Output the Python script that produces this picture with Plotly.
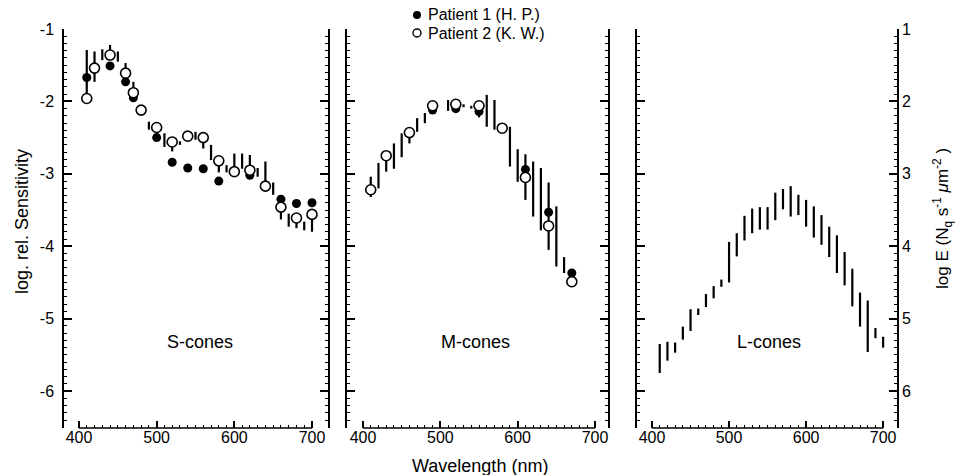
import plotly.graph_objects as go

# ---------------- data ----------------
# S-cones
s_p1_nm = [410, 440, 460, 470, 500, 520, 540, 560, 580, 620, 660, 680, 700]
s_p1 = [-1.67, -1.51, -1.73, -1.95, -2.50, -2.84, -2.92, -2.93, -3.10, -3.02, -3.35, -3.41, -3.40]
s_p2_nm = [410, 420, 440, 460, 470, 480, 500, 520, 540, 560, 580, 600, 620, 640, 660, 680, 700]
s_p2 = [-1.96, -1.54, -1.36, -1.61, -1.88, -2.12, -2.36, -2.56, -2.48, -2.50, -2.82, -2.97, -2.95,
        -3.17, -3.46, -3.61, -3.56]
s_bar_nm = [410, 420, 430, 440, 450, 460, 470, 490, 510, 520, 530, 550, 560, 570, 580, 590, 600,
            610, 620, 630, 640, 650, 660, 670, 680, 690, 700]
s_bar_top = [-1.29, -1.31, -1.28, -1.22, -1.31, -1.47, -1.73, -2.28, -2.44, -2.56, -2.55, -2.42,
             -2.50, -2.60, -2.82, -2.88, -2.72, -2.72, -2.74, -2.92, -2.83, -3.12, -3.46, -3.55,
             -3.61, -3.66, -3.56]
s_bar_bot = [-1.96, -1.73, -1.43, -1.36, -1.45, -1.60, -1.88, -2.39, -2.63, -2.69, -2.60, -2.53,
             -2.65, -2.81, -2.98, -2.98, -2.97, -2.93, -2.95, -3.04, -3.17, -3.29, -3.63, -3.73,
             -3.75, -3.78, -3.80]

# M-cones
m_p1_nm = [490, 520, 550, 610, 640, 670]
m_p1 = [-2.12, -2.10, -2.14, -2.94, -3.53, -4.37]
m_p2_nm = [410, 430, 460, 490, 520, 550, 580, 610, 640, 670]
m_p2 = [-3.22, -2.75, -2.43, -2.06, -2.04, -2.06, -2.37, -3.05, -3.72, -4.49]
m_bar_nm = [410, 420, 430, 440, 450, 460, 470, 480, 510, 530, 540, 550, 560, 570, 590, 600, 610,
            620, 630, 640, 650, 660]
m_bar_top = [-3.04, -2.85, -2.75, -2.58, -2.44, -2.43, -2.23, -2.16, -1.98, -2.04, -2.06, -2.06,
             -1.91, -1.98, -2.35, -2.66, -2.73, -2.83, -2.92, -3.12, -3.45, -4.15]
m_bar_bot = [-3.32, -3.20, -2.97, -2.93, -2.77, -2.58, -2.42, -2.30, -2.13, -2.08, -2.10, -2.22,
             -2.35, -2.39, -2.90, -3.11, -3.36, -3.59, -3.78, -4.05, -4.28, -4.37]

# L-cones (range bars only)
l_bar_nm = [410, 420, 430, 440, 450, 460, 470, 480, 490, 500, 510, 520, 530, 540, 550, 560, 570,
            580, 590, 600, 610, 620, 630, 640, 650, 660, 670, 680, 690, 700]
l_bar_top = [-5.35, -5.32, -5.33, -5.11, -4.87, -4.86, -4.66, -4.55, -4.46, -3.94, -3.82, -3.58,
             -3.48, -3.46, -3.46, -3.26, -3.21, -3.17, -3.29, -3.36, -3.45, -3.57, -3.73, -3.85,
             -4.08, -4.31, -4.64, -4.75, -5.13, -5.25]
l_bar_bot = [-5.75, -5.58, -5.47, -5.29, -5.17, -4.95, -4.84, -4.72, -4.56, -4.50, -4.14, -3.92,
             -3.82, -3.77, -3.77, -3.64, -3.49, -3.59, -3.57, -3.73, -3.88, -3.98, -4.15, -4.37,
             -4.54, -4.83, -5.11, -5.46, -5.27, -5.40]

y_ticks = [-1, -2, -3, -4, -5, -6]
y_ticktext = ["-1", "-2", "-3", "-4", "-5", "-6"]
e_ticks = [1, 2, 3, 4, 5, 6]
x_ticks = [400, 500, 600, 700]
panel_names = ["S-cones", "M-cones", "L-cones"]

# ---------------- figure ----------------
W, H = 959, 475
ML, MR, MT, MB = 64, 62, 29, 47
PW, PH = W - ML - MR, H - MT - MB


def px_x(p):
    return (p - ML) / PW


def px_y(p):
    return (H - MB - p) / PH


FONT = "Liberation Sans, Arial, Helvetica, sans-serif"
fig = go.Figure()


def add_bars(nm, top, bot, xa, ya):
    fig.add_trace(go.Scatter(
        x=nm, y=top, mode="markers", xaxis=xa, yaxis=ya, showlegend=False,
        marker=dict(size=1, opacity=0),
        error_y=dict(type="data", symmetric=False,
                     array=[0] * len(nm),
                     arrayminus=[t - b for t, b in zip(top, bot)],
                     width=0, thickness=2.2, color="black"),
        hoverinfo="skip"))


def add_points(nm, vals, xa, ya, filled, name):
    fig.add_trace(go.Scatter(
        x=nm, y=vals, mode="markers", xaxis=xa, yaxis=ya, name=name, showlegend=False,
        marker=dict(symbol="circle", size=9 if filled else 10,
                    color="black" if filled else "white",
                    line=dict(color="black", width=0 if filled else 1.6))))


add_bars(s_bar_nm, s_bar_top, s_bar_bot, "x", "y")
add_points(s_p1_nm, s_p1, "x", "y", True, "Patient 1 (H. P.)")
add_points(s_p2_nm, s_p2, "x", "y", False, "Patient 2 (K. W.)")

add_bars(m_bar_nm, m_bar_top, m_bar_bot, "x2", "y2")
add_points(m_p1_nm, m_p1, "x2", "y2", True, "Patient 1 (H. P.)")
add_points(m_p2_nm, m_p2, "x2", "y2", False, "Patient 2 (K. W.)")

add_bars(l_bar_nm, l_bar_top, l_bar_bot, "x3", "y3")

domains = [
    [px_x(64), px_x(328)],
    [px_x(347), px_x(608)],
    [px_x(637), px_x(897)],
]
xranges = [[380.7, 720.6], [379.3, 716.8], [380.5, 718.0]]
minor_x = [v for v in range(410, 700, 10) if v % 100 != 0]
minor_y = [round(-1 - 0.1 * k, 2) for k in range(1, 56) if k % 10 != 0]
minor_e = [round(1 + 0.1 * k, 2) for k in range(1, 56) if k % 10 != 0]

axis_font = dict(family=FONT, size=16, color="black")

layout = dict(
    width=W, height=H,
    margin=dict(l=ML, r=MR, t=MT, b=MB, pad=0),
    paper_bgcolor="white", plot_bgcolor="white",
    font=dict(family=FONT, color="black"),
    showlegend=False,
)

for i in range(3):
    sx = "" if i == 0 else str(i + 1)
    layout["xaxis" + sx] = dict(
        domain=domains[i], range=xranges[i], anchor="y" + sx,
        showline=False, showgrid=False, zeroline=False,
        ticks="inside", ticklen=7, tickwidth=1.5, tickcolor="black",
        tickmode="array", tickvals=x_ticks, ticktext=[str(v) for v in x_ticks],
        tickfont=axis_font, ticklabelstandoff=-2,
        minor=dict(ticks="inside", ticklen=3, tickwidth=1, tickcolor="black",
                   tickmode="array", tickvals=minor_x, showgrid=False),
    )
    layout["yaxis" + sx] = dict(
        domain=[0, 1], range=[-6.51, -1], anchor="x" + sx,
        showline=True, linecolor="black", linewidth=1.5,
        mirror="ticks" if i < 2 else False,
        showgrid=False, zeroline=False,
        ticks="inside", ticklen=8, tickwidth=1.5, tickcolor="black",
        tickmode="array", tickvals=y_ticks, ticktext=y_ticktext,
        showticklabels=(i == 0), tickfont=axis_font, ticklabelstandoff=5,
        minor=dict(ticks="inside", ticklen=3, tickwidth=1, tickcolor="black",
                   tickmode="array", tickvals=minor_y, showgrid=False),
    )

layout["yaxis4"] = dict(
    overlaying="y3", anchor="x3", side="right", range=[6.51, 1],
    showline=True, linecolor="black", linewidth=1.5,
    showgrid=False, zeroline=False,
    ticks="inside", ticklen=8, tickwidth=1.5, tickcolor="black",
    tickmode="array", tickvals=e_ticks, ticktext=[str(v) for v in e_ticks],
    tickfont=axis_font, ticklabelstandoff=0,
    minor=dict(ticks="inside", ticklen=3, tickwidth=1, tickcolor="black",
               tickmode="array", tickvals=minor_e, showgrid=False),
)
fig.add_trace(go.Scatter(x=[None], y=[None], xaxis="x3", yaxis="y4", showlegend=False,
                         mode="markers"))

fig.update_layout(**layout)

# bottom axis lines spanning 400..700 nm
for i in range(3):
    sx = "" if i == 0 else str(i + 1)
    fig.add_shape(type="line", xref="x" + sx, yref="y" + sx + " domain",
                  x0=x_ticks[0], x1=x_ticks[-1], y0=0, y1=0,
                  line=dict(color="black", width=1.5))

# panel labels
label_pos = [(556, "x", "y"), (546, "x2", "y2"), (552, "x3", "y3")]
for name, (xv, xa, ya) in zip(panel_names, label_pos):
    fig.add_annotation(x=xv, y=-5.32, xref=xa, yref=ya, text=name, showarrow=False,
                       font=dict(family=FONT, size=18, color="black"))

# axis titles
fig.add_annotation(x=px_x(22), y=px_y(222), xref="paper", yref="paper",
                   xanchor="center", yanchor="middle",
                   text="log. rel. Sensitivity", textangle=-90, showarrow=False,
                   font=dict(family=FONT, size=18, color="black"))
fig.add_annotation(x=px_x(942), y=px_y(218), xref="paper", yref="paper",
                   xanchor="center", yanchor="middle",
                   text="log E (N<sub>q</sub> s<sup>-1</sup> <i>μ</i>m<sup>-2</sup> )",
                   textangle=-90, showarrow=False,
                   font=dict(family=FONT, size=17, color="black"))
fig.add_annotation(x=px_x(480), y=px_y(466), xref="paper", yref="paper",
                   xanchor="center", yanchor="middle",
                   text="Wavelength (nm)", showarrow=False,
                   font=dict(family=FONT, size=18, color="black"))

# legend
leg_rows = [("Patient 1 (H. P.)", 15, True), ("Patient 2 (K. W.)", 33, False)]
for text, py, filled in leg_rows:
    fig.add_shape(type="circle", xref="paper", yref="paper",
                  xsizemode="pixel", ysizemode="pixel",
                  xanchor=px_x(417), yanchor=px_y(py),
                  x0=-4, x1=4, y0=-4, y1=4,
                  fillcolor="black" if filled else "white",
                  line=dict(color="black", width=0 if filled else 1.4))
    fig.add_annotation(x=px_x(426), y=px_y(py), xref="paper", yref="paper",
                       text=text, showarrow=False, xanchor="left", yanchor="middle",
                       font=dict(family=FONT, size=16, color="black"))

fig.write_html("out.html", config={"displayModeBar": False},
               post_script="document.body.style.margin='0';document.body.style.padding='0';")
